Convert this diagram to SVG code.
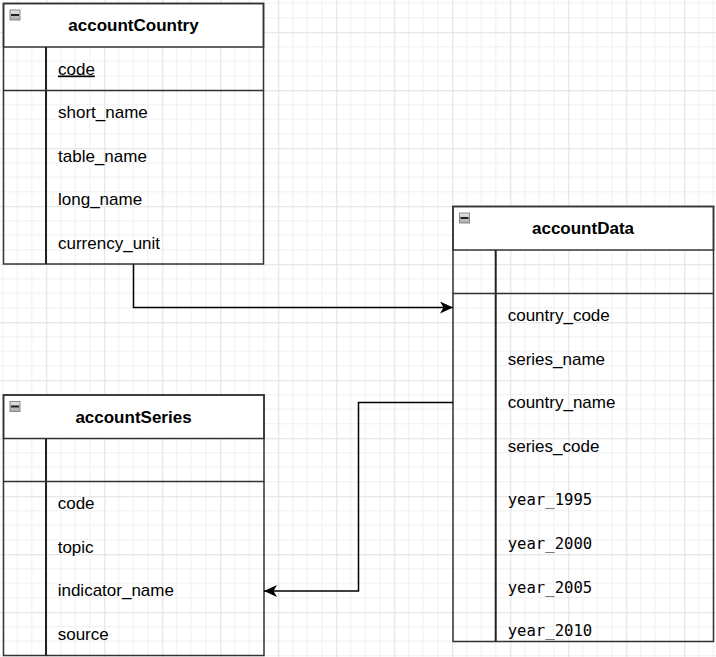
<svg xmlns="http://www.w3.org/2000/svg" width="716" height="657" viewBox="0 0 716 657">
<defs>
  <pattern id="grid" patternUnits="userSpaceOnUse" x="46.3" y="32.3" width="58" height="58">
    <rect width="58" height="58" fill="#ffffff"/>
    <g stroke="#f0f0f0" stroke-width="1">
      <line x1="14.5" y1="0" x2="14.5" y2="58"/>
      <line x1="29" y1="0" x2="29" y2="58"/>
      <line x1="43.5" y1="0" x2="43.5" y2="58"/>
      <line x1="0" y1="14.5" x2="58" y2="14.5"/>
      <line x1="0" y1="29" x2="58" y2="29"/>
      <line x1="0" y1="43.5" x2="58" y2="43.5"/>
    </g>
    <g stroke="#e0e0e0" stroke-width="1">
      <line x1="0.5" y1="0" x2="0.5" y2="58"/>
      <line x1="0" y1="0.5" x2="58" y2="0.5"/>
    </g>
  </pattern>
  <linearGradient id="iconGrad" x1="0" y1="0" x2="0" y2="1">
    <stop offset="0" stop-color="#e8e8e8"/>
    <stop offset="1" stop-color="#a8a8a8"/>
  </linearGradient>
  <marker id="arrow" markerUnits="userSpaceOnUse" markerWidth="14" markerHeight="14" refX="13" refY="6" orient="auto">
    <path d="M0,0 L13,6 L0,12 L3.5,6 Z" fill="#000000"/>
  </marker>
  <g id="icon">
    <rect x="0.5" y="0.5" width="10" height="10" fill="url(#iconGrad)" stroke="#8a8a8a" stroke-width="1"/>
    <rect x="1.5" y="4.5" width="8" height="2" fill="#222222"/>
  </g>
</defs>
<style>
  .box { fill: none; stroke: #333333; stroke-width: 1.5; }
  .head { fill: #ffffff; stroke: #333333; stroke-width: 1.5; }
  .sep { stroke: #333333; stroke-width: 1.5; }
  .div { stroke: #222222; stroke-width: 2; }
  .title { font-family: "Liberation Sans", Arial, sans-serif; font-size: 17px; font-weight: bold; fill: #000000; text-anchor: middle; }
  .field { font-family: "Liberation Sans", Arial, sans-serif; font-size: 17px; fill: #000000; }
  .mono { font-family: "DejaVu Sans Mono", "Liberation Mono", monospace; font-size: 15.6px; fill: #000000; }
  .conn { fill: none; stroke: #000000; stroke-width: 1.5; }
</style>
<rect x="0" y="0" width="716" height="657" fill="url(#grid)"/>

<g id="accountCountry">
  <rect class="head" x="3.5" y="3.5" width="260" height="43.5"/>
  <rect class="box" x="3.5" y="3.5" width="260" height="260.5"/>
  <use href="#icon" x="9.5" y="9.5"/>
  <text class="title" x="133.5" y="31">accountCountry</text>
  <line class="div" x1="46" y1="47" x2="46" y2="264"/>
  <line class="sep" x1="3.5" y1="90.5" x2="263.5" y2="90.5"/>
  <text class="field" x="58" y="74.5" text-decoration="underline">code</text>
  <text class="field" x="58" y="118">short_name</text>
  <text class="field" x="58" y="161.5">table_name</text>
  <text class="field" x="58" y="205">long_name</text>
  <text class="field" x="58" y="248.5">currency_unit</text>
</g>

<g id="accountData">
  <rect class="head" x="453" y="206.5" width="260.5" height="43.5"/>
  <rect class="box" x="453" y="206.5" width="260.5" height="435"/>
  <use href="#icon" x="459" y="212.5"/>
  <text class="title" x="583" y="234">accountData</text>
  <line class="div" x1="495.7" y1="250" x2="495.7" y2="641.5"/>
  <line class="sep" x1="453" y1="293.5" x2="713.5" y2="293.5"/>
  <text class="field" x="507.7" y="321">country_code</text>
  <text class="field" x="507.7" y="364.5">series_name</text>
  <text class="field" x="507.7" y="408">country_name</text>
  <text class="field" x="507.7" y="451.5">series_code</text>
  <text class="mono" x="507.7" y="505">year_1995</text>
  <text class="mono" x="507.7" y="548.5">year_2000</text>
  <text class="mono" x="507.7" y="592.5">year_2005</text>
  <text class="mono" x="507.7" y="635.5">year_2010</text>
</g>

<g id="accountSeries">
  <rect class="head" x="3.5" y="395" width="260.5" height="43.5"/>
  <rect class="box" x="3.5" y="395" width="260.5" height="260.5"/>
  <use href="#icon" x="9.5" y="401"/>
  <text class="title" x="133.5" y="422.5">accountSeries</text>
  <line class="div" x1="46" y1="438.5" x2="46" y2="655.5"/>
  <line class="sep" x1="3.5" y1="481.5" x2="264" y2="481.5" stroke-width="2"/>
  <text class="field" x="57.7" y="509">code</text>
  <text class="field" x="57.7" y="552.5">topic</text>
  <text class="field" x="57.7" y="596">indicator_name</text>
  <text class="field" x="57.7" y="639.5">source</text>
</g>

<g id="connectors">
  <path class="conn" d="M133.5,264 V307.5 H453" marker-end="url(#arrow)"/>
  <path class="conn" d="M453,402.5 H358.5 V591 H264" marker-end="url(#arrow)"/>
</g>
</svg>
